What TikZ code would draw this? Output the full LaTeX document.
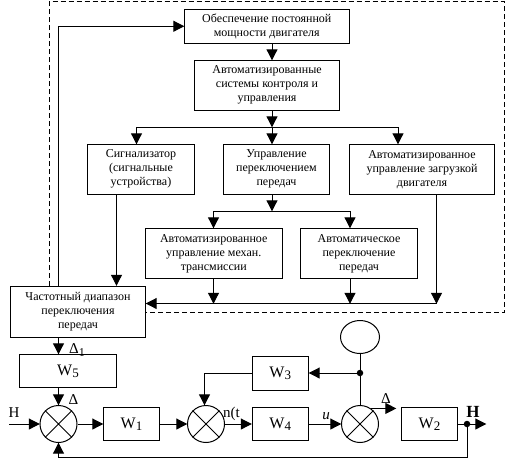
\documentclass[tikz,border=0pt]{standalone}
\usepackage{fontspec}
\setmainfont{Liberation Serif}
\usetikzlibrary{arrows.meta,shapes.geometric}
\tikzset{
  x=1pt,y=-1pt,
  txt/.style={font=\fontsize{12}{14}\selectfont,align=center,inner sep=0pt},
  bx/.style={draw,line width=1pt,txt},
  wbx/.style={bx,font=\fontsize{16}{16}\selectfont},
  conn/.style={line width=1pt},
  arr/.style={conn,-{Triangle[length=11pt,width=11pt]},shorten >=-0.3pt},
  sumnode/.style={draw,line width=1pt,circle,minimum size=37pt,inner sep=0pt},
  lab/.style={font=\fontsize{15}{15}\selectfont,inner sep=0pt},
  jdot/.style={circle,fill=black,minimum size=6.5pt,inner sep=0pt},
  dashframe/.style={line width=1pt,dash pattern=on 5pt off 3pt}
}
\newcommand{\bxn}[7][bx]{\node[#1,minimum width=#5pt-#3pt,minimum height=#6pt-#4pt] (#2) at ({(#3+#5)/2},{(#4+#6)/2}) {#7};}
\newcommand{\wsub}[2]{W\raisebox{-2pt}{\fontsize{13}{13}\selectfont #1}}
\newcommand{\sumn}[3]{\node[sumnode] (#1) at (#2,#3) {};
  \draw[line width=0.8pt] (#1.45)--(#1.225) (#1.135)--(#1.315);}
\begin{document}
\begin{tikzpicture}
\useasboundingbox (0,0) rectangle (516,459);
\bxn{top}{184.5}{9.5}{349}{43}{Обеспечение постоянной\\мощности двигателя}
\bxn{auto}{194.5}{60.5}{339.5}{110}{Автоматизированные\\системы контроля и\\управления}
\bxn{sig}{87.5}{144.5}{194.5}{194}{Сигнализатор\\(сигнальные\\устройства)}
\bxn{upr}{223.5}{144.5}{329.5}{194}{Управление\\переключением\\передач}
\bxn{avt}{349.5}{144.5}{494.5}{194}{Автоматизированное\\управление загрузкой\\двигателя}
\bxn{mech}{145.5}{228.5}{282}{278.5}{Автоматизированное\\управление механ.\\трансмиссии}
\bxn{per}{300.5}{228.5}{417.5}{278.5}{Автоматическое\\переключение\\передач}
\bxn{freq}{10.5}{286}{145.5}{337}{Частотный диапазон\\переключения\\передач}
\bxn[wbx]{w5}{19.5}{354.5}{116.5}{387.5}{\wsub{5}{}}
\bxn[wbx]{w1}{103.5}{407.5}{159.5}{440.5}{\wsub{1}{}}
\bxn[wbx]{w3}{252}{356.5}{308.5}{390.5}{\wsub{3}{}}
\bxn[wbx]{w4}{252}{407.5}{308.5}{440.5}{\wsub{4}{}}
\bxn[wbx]{w2}{401.5}{407.5}{457.5}{440.5}{\wsub{2}{}}
\sumn{s1}{58.5}{424}
\sumn{s2}{206}{424}
\sumn{s3}{360}{424}
\node[draw,line width=1pt,ellipse,minimum width=39pt,minimum height=33pt,inner sep=0pt] (el) at (360,337) {};
\node[jdot] (d1) at (360,373) {};
\node[jdot] (d2) at (467,424) {};
% columns and rows the connectors run on
\coordinate (xa) at (58.5,0);
\coordinate (xb) at (272,0);
\coordinate (xc) at (136.5,0);
\coordinate (xd) at (398,0);
\coordinate (xe) at (213.5,0);
\coordinate (xf) at (350,0);
\coordinate (xg) at (116.5,0);
\coordinate (xh) at (436.5,0);
\coordinate (xi) at (204.5,0);
\coordinate (ya) at (0,127);
\coordinate (yb) at (0,211);
\coordinate (yc) at (0,303.5);
\coordinate (yd) at (0,457);
% dashed frame
\coordinate (fa) at (49,286); \coordinate (fb) at (49,1.5); \coordinate (fc) at (504,1.5);
\coordinate (fd) at (504,312.5); \coordinate (fe) at (145.5,312.5);
\draw[dashframe] (fa)--(fb)--(fc)--(fd)--(fe);
% upper connectors
\draw[arr] (xa|-freq.north)--(xa|-top.west)--(top.west);
\draw[arr] (xb|-top.south)--(xb|-auto.north);
\draw[arr] (xb|-auto.south)--(xb|-ya);
\draw[arr] (xc|-ya)--(xd|-ya)--(xd|-avt.north);
\draw[arr] (xc|-ya)--(xc|-sig.north);
\draw[arr] (xb|-ya)--(xb|-upr.north);
\draw[arr] (xb|-upr.south)--(xb|-yb);
\draw[conn] (xe|-yb)--(xf|-yb);
\draw[arr] (xe|-yb)--(xe|-mech.north);
\draw[arr] (xf|-yb)--(xf|-per.north);
\draw[arr] (xg|-sig.south)--(xg|-freq.north);
\draw[arr] (xh|-yc)--(freq.east|-yc);
\draw[arr] (xh|-avt.south)--(xh|-yc);
\draw[arr] (xe|-mech.south)--(xe|-yc);
\draw[arr] (xf|-per.south)--(xf|-yc);
% lower connectors
\draw[arr] (xa|-freq.south)--(xa|-w5.north);
\draw[arr] (xa|-w5.south)--(s1.north);
\coordinate (hin) at (9,424);
\draw[arr] (hin)--(s1.west);
\draw[arr] (s1.east)--(w1.west);
\draw[arr] (w1.east)--(s2.west);
\draw[arr] (s2.east)--(w4.west);
\draw[arr] (w4.east)--(s3.west);
\coordinate (out) at (486,424);
\draw[arr] (w2.east)--(out);
\draw[conn] (el.south)--(s3.north);
\draw[arr] (d1)--(w3.east|-d1);
\draw[arr] (w3.west|-d1)--(xi|-d1)--(xi|-s2.north);
\draw[arr] (d2)--(d2|-yd)--(xa|-yd)--(s1.south);
\coordinate (dl) at (396,0);
\draw[arr] (s3.55)--(dl|-s3.55);
% labels
\node[lab] at (14,413) {Н};
\node[lab,anchor=west] at (69,350) {Δ\raisebox{-3pt}{\fontsize{12}{12}\selectfont 1}};
\node[lab] at (73.5,400) {Δ};
\node[lab,anchor=west] at (223,414) {n(t};
\node[lab] at (326,416) {\itshape u};
\node[lab] at (386,399) {Δ};
\node[lab,font=\fontsize{17}{17}\selectfont\bfseries] at (473,412) {Н};
\end{tikzpicture}
\end{document}
